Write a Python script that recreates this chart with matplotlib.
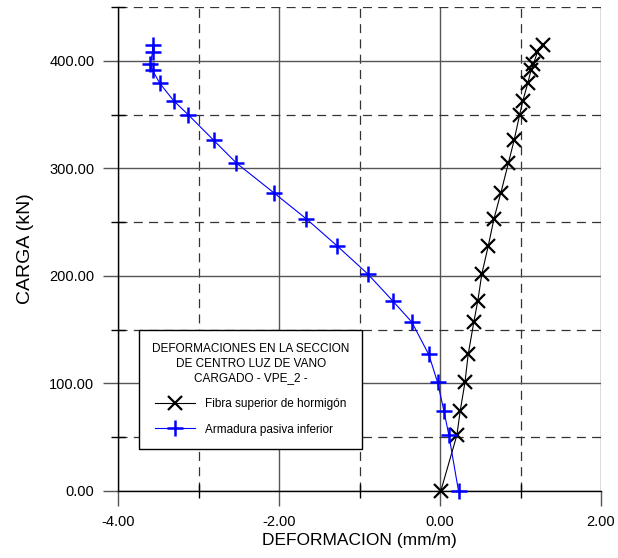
import matplotlib
matplotlib.use("Agg")
import matplotlib.pyplot as plt
from matplotlib.ticker import FormatStrFormatter, FixedLocator

plt.rcParams['font.family'] = ['Liberation Sans', 'DejaVu Sans']
plt.rcParams['axes.unicode_minus'] = False
plt.rcParams['lines.scale_dashes'] = False

# Applied load steps (kN)
carga = [0, 52, 74, 101, 127, 157, 177, 202, 228, 253, 277, 305, 326, 350,
         363, 379, 391, 397, 408, 415]

# Strain at the top concrete fibre (mm/m)
fibra_superior = [0.01, 0.21, 0.25, 0.31, 0.35, 0.42, 0.47, 0.52, 0.60, 0.67,
                  0.755, 0.85, 0.92, 0.99, 1.03, 1.09, 1.13, 1.16, 1.21, 1.28]

# Strain in the bottom passive reinforcement (mm/m)
armadura_inferior = [0.23, 0.11, 0.05, -0.03, -0.14, -0.35, -0.59, -0.90, -1.28,
                     -1.66, -2.06, -2.53, -2.81, -3.13, -3.31, -3.48, -3.57,
                     -3.60, -3.57, -3.57]

x_major = [-4, -2, 0, 2]
x_minor = [-3, -1, 1]
y_major = [0, 100, 200, 300, 400]
y_minor = [50, 150, 250, 350, 450]

legend_title = "DEFORMACIONES EN LA SECCION\nDE CENTRO LUZ DE VANO\nCARGADO - VPE_2 -"
label_fibra = "Fibra superior de hormigón"
label_armadura = "Armadura pasiva inferior"

fig = plt.figure(figsize=(6.18, 5.58), dpi=100)
ax = fig.add_axes([118 / 618, 1 - 491 / 558, (601 - 118) / 618, (491 - 7) / 558])

ax.plot(fibra_superior, carga, color='black', lw=0.8, marker='x',
        markersize=10, markeredgewidth=1.6, label=label_fibra, zorder=3,
        clip_on=False)
ax.plot(armadura_inferior, carga, color='#0000ff', lw=0.8, marker='+',
        markersize=12, markeredgewidth=1.8, label=label_armadura, zorder=3,
        clip_on=False)

ax.set_xlim(-4, 2)
ax.set_ylim(0, 450)
ax.xaxis.set_major_locator(FixedLocator(x_major))
ax.xaxis.set_minor_locator(FixedLocator(x_minor))
ax.yaxis.set_major_locator(FixedLocator(y_major))
ax.yaxis.set_minor_locator(FixedLocator(y_minor))
ax.xaxis.set_major_formatter(FormatStrFormatter('%.2f'))
ax.yaxis.set_major_formatter(FormatStrFormatter('%.2f'))

ax.grid(which='major', color='#555555', lw=1.0, ls='-', zorder=1)
ax.grid(which='minor', color='#333333', lw=0.9, ls=(0, (6.5, 4.5)), zorder=1)
ax.set_axisbelow(True)

for side in ('top', 'right'):
    ax.spines[side].set_visible(False)
for side in ('left', 'bottom'):
    ax.spines[side].set_linewidth(1.0)
    ax.spines[side].set_color('black')

ax.tick_params(which='major', direction='out', length=11, width=1.0,
               color='#555555', labelsize=10.5, pad=6)
ax.tick_params(which='minor', direction='inout', length=10, width=1.0,
               color='black')

ax.set_xlabel("DEFORMACION (mm/m)", fontsize=12.5, labelpad=3)
ax.set_ylabel("CARGA (kN)", fontsize=14, labelpad=11)

leg = ax.legend(title=legend_title, loc='upper left',
                bbox_to_anchor=(139 / 618, 1 - 330 / 558),
                bbox_transform=fig.transFigure,
                fontsize=8.5, title_fontsize=8.5, frameon=True, fancybox=False,
                edgecolor='black', framealpha=1.0, borderpad=1.1,
                handlelength=3.4, handletextpad=0.8, labelspacing=1.15,
                borderaxespad=0)
leg.get_frame().set_linewidth(1.0)
leg.get_title().set_multialignment('center')
leg.get_title().set_linespacing(1.3)
leg.set_zorder(5)

fig.savefig("out.png", dpi=100)
